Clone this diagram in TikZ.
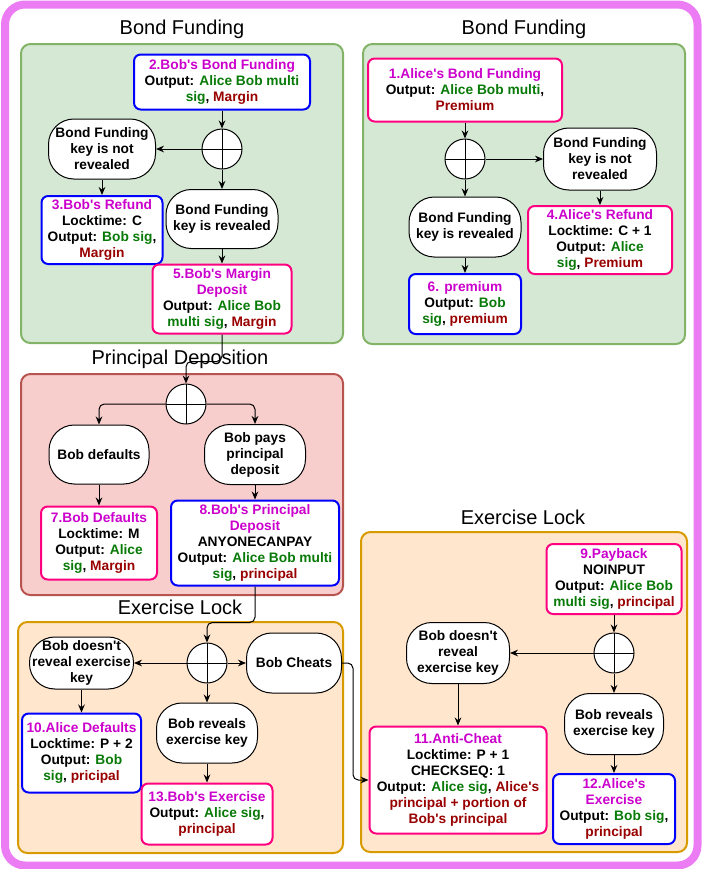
\documentclass[tikz,border=0pt]{standalone}
\usepackage{fontspec}
\setmainfont{Liberation Sans}
\usepackage{xcolor}
\usetikzlibrary{arrows.meta}

\definecolor{hdmag}{HTML}{CC00CC}
\definecolor{siggreen}{HTML}{087A08}
\definecolor{amtred}{HTML}{990000}
\definecolor{boxblue}{HTML}{0000FF}
\definecolor{boxpink}{HTML}{FF0080}
\definecolor{bondfill}{HTML}{D5E8D4}
\definecolor{bondline}{HTML}{82B366}
\definecolor{depfill}{HTML}{F8CECC}
\definecolor{depline}{HTML}{B85450}
\definecolor{lockfill}{HTML}{FFE6CC}
\definecolor{lockline}{HTML}{D79B00}
\definecolor{framepink}{HTML}{EC7CF4}

\newcommand{\txhead}[1]{\textcolor{hdmag}{#1}}
\newcommand{\txsig}[1]{\textcolor{siggreen}{#1}}
\newcommand{\txamt}[1]{\textcolor{amtred}{#1}}
\newcommand{\aps}{\textquotesingle}

\begin{document}
\begin{tikzpicture}[x=0.75pt, y=-0.75pt,
    sz/.style 2 args={minimum width=#1*0.75pt, minimum height=#2*0.75pt},
    tx/.style={font=\fontsize{10.3}{12}\selectfont\bfseries, align=center, inner sep=0pt},
    txbox/.style={tx, draw, fill=white, rounded corners=5pt, line width=1.5pt},
    bluebox/.style={txbox, draw=boxblue},
    pinkbox/.style={txbox, draw=boxpink},
    cond/.style={tx, draw, fill=white, rounded corners=19pt, line width=0.75pt},
    junction/.style={circle, draw, fill=white, minimum size=30pt, inner sep=0pt, line width=0.75pt,
        path picture={\draw[line width=0.75pt] (path picture bounding box.north) -- (path picture bounding box.south)
            (path picture bounding box.west) -- (path picture bounding box.east);}},
    grp/.style={draw, line width=1.5pt, rounded corners=7pt, inner sep=0pt},
    grptitle/.style={font=\fontsize{15}{18}\selectfont},
    wire/.style={-{Stealth[length=6pt, width=5pt]}, line width=0.75pt}]

    \useasboundingbox (0,0) rectangle (703,869);
    \draw[framepink, line width=6pt, rounded corners=15pt] (5,4.5) rectangle (697.5,865.5);

    % groups
    \node[grp, fill=bondfill, draw=bondline, sz={322}{299}] (gbondB) at (182,193.5) {};
    \node[grp, fill=bondfill, draw=bondline, sz={322}{300}] (gbondA) at (524,194) {};
    \node[grp, fill=depfill, draw=depline, sz={322}{221}] (gdep) at (182,484.5) {};
    \node[grp, fill=lockfill, draw=lockline, sz={325}{231}] (glockL) at (180.5,737.5) {};
    \node[grp, fill=lockfill, draw=lockline, sz={326}{320}] (glockR) at (524,692) {};

    \node[grptitle] (tbondB) at (182,29) {Bond Funding};
    \node[grptitle] (tbondA) at (524,29) {Bond Funding};
    \node[grptitle] (tdep) at (180,359) {Principal Deposition};
    \node[grptitle] (tlockL) at (180,607) {Exercise Lock};
    \node[grptitle] (tlockR) at (523,517) {Exercise Lock};

    % Bob's bond funding
    \node[bluebox, sz={176}{55}] (n2) at (222,82) {\txhead{2.Bob\aps s Bond Funding}\\Output: \txsig{Alice Bob multi}\\\txsig{sig}, \txamt{Margin}};
    \node[junction] (j1) at (222,149) {};
    \node[cond, sz={107}{60}] (k1no) at (102,149) {Bond Funding\\key is not\\revealed};
    \node[cond, sz={112}{59}] (k1yes) at (222,219) {Bond Funding\\key is revealed};
    \node[bluebox, sz={121}{68}] (n3) at (102,230) {\txhead{3.Bob\aps s Refund}\\Locktime: C\\Output: \txsig{Bob sig},\\\txamt{Margin}};
    \node[pinkbox, sz={139}{69}] (n5) at (222,299) {\txhead{5.Bob\aps s Margin}\\\txhead{Deposit}\\Output: \txsig{Alice Bob}\\\txsig{multi sig}, \txamt{Margin}};

    % Alice's bond funding
    \node[pinkbox, sz={194}{63}] (n1) at (465,90) {\txhead{1.Alice\aps s Bond Funding}\\Output: \txsig{Alice Bob multi},\\\txamt{Premium}};
    \node[junction] (j2) at (465,159) {};
    \node[cond, sz={113}{62}] (k2no) at (600,159) {Bond Funding\\key is not\\revealed};
    \node[cond, sz={112}{60}] (k2yes) at (465,227) {Bond Funding\\key is revealed};
    \node[pinkbox, sz={144}{68}] (n4) at (600,240) {\txhead{4.Alice\aps s Refund}\\Locktime: C + 1\\Output: \txsig{Alice}\\\txsig{sig}, \txamt{Premium}};
    \node[bluebox, sz={112}{60}] (n6) at (465,304) {\txhead{6. premium}\\Output: \txsig{Bob}\\\txsig{sig}, \txamt{premium}};

    % principal deposition
    \node[junction] (j3) at (186,404) {};
    \node[cond, sz={100}{59}] (bobdef) at (99,454.5) {Bob defaults};
    \node[cond, sz={101}{60}] (bobpays) at (255,454.5) {Bob pays\\principal\\deposit};
    \node[pinkbox, sz={116}{73}] (n7) at (99,543) {\txhead{7.Bob Defaults}\\Locktime: M\\Output: \txsig{Alice}\\\txsig{sig}, \txamt{Margin}};
    \node[bluebox, sz={168}{85}] (n8) at (255,543) {\txhead{8.Bob\aps s Principal}\\\txhead{Deposit}\\ANYONECANPAY\\Output: \txsig{Alice Bob multi}\\\txsig{sig}, \txamt{principal}};

    % exercise lock, left
    \node[junction] (j4) at (207,663) {};
    \node[cond, sz={104}{52}] (nokeyL) at (81.5,663) {Bob doesn\aps t\\reveal exercise\\key};
    \node[cond, sz={95}{60}] (cheats) at (294,663) {Bob Cheats};
    \node[cond, sz={101}{60}] (revL) at (207,733) {Bob reveals\\exercise key};
    \node[bluebox, sz={119}{79}] (n10) at (81.5,753) {\txhead{10.Alice Defaults}\\Locktime: P + 2\\Output: \txsig{Bob}\\\txsig{sig}, \txamt{pricipal}};
    \node[pinkbox, sz={131}{61}] (n13) at (207,814) {\txhead{13.Bob\aps s Exercise}\\Output: \txsig{Alice sig},\\\txamt{principal}};

    % exercise lock, right
    \node[pinkbox, sz={135}{70}] (n9) at (614,579) {\txhead{9.Payback}\\NOINPUT\\Output: \txsig{Alice Bob}\\\txsig{multi sig}, \txamt{principal}};
    \node[junction] (j5) at (614,653) {};
    \node[cond, sz={103}{61}] (nokeyR) at (458,653) {Bob doesn\aps t\\reveal\\exercise key};
    \node[cond, sz={99}{61}] (revR) at (614,724) {Bob reveals\\exercise key};
    \node[pinkbox, sz={177}{107}] (n11) at (458,780) {\txhead{11.Anti-Cheat}\\Locktime: P + 1\\CHECKSEQ: 1\\Output: \txsig{Alice sig}, \txamt{Alice\aps s}\\\txamt{principal + portion of}\\\txamt{Bob\aps s principal}};
    \node[bluebox, sz={122}{70}] (n12) at (614,809) {\txhead{12.Alice\aps s}\\\txhead{Exercise}\\Output: \txsig{Bob sig},\\\txamt{principal}};

    \path[wire]
    (n2) edge (j1)
    (j1) edge (k1no)
    (j1) edge (k1yes)
    (k1no) edge (n3)
    (k1yes) edge (n5)
    (n1) edge (j2)
    (j2) edge (k2no)
    (j2) edge (k2yes)
    (k2no) edge (n4)
    (k2yes) edge (n6)
    (bobdef) edge (n7)
    (bobpays) edge (n8)
    (j4) edge (nokeyL)
    (j4) edge (cheats)
    (j4) edge (revL)
    (nokeyL) edge (n10)
    (revL) edge (n13)
    (n9) edge (j5)
    (j5) edge (nokeyR)
    (j5) edge (revR)
    (nokeyR) edge (n11)
    (revR) edge (n12);

    \draw[wire, rounded corners=4pt] (n5.south) -- ++(0,27) -| (j3.north);
    \draw[wire, rounded corners=4pt] (j3.west) -| (bobdef.north);
    \draw[wire, rounded corners=4pt] (j3.east) -| (bobpays.north);
    \draw[wire, rounded corners=4pt] (n8.south) -- ++(0,36) -| (j4.north);
    \draw[wire, rounded corners=4pt] (cheats.east) -- ++(11,0) |- (n11.west);

\end{tikzpicture}
\end{document}
